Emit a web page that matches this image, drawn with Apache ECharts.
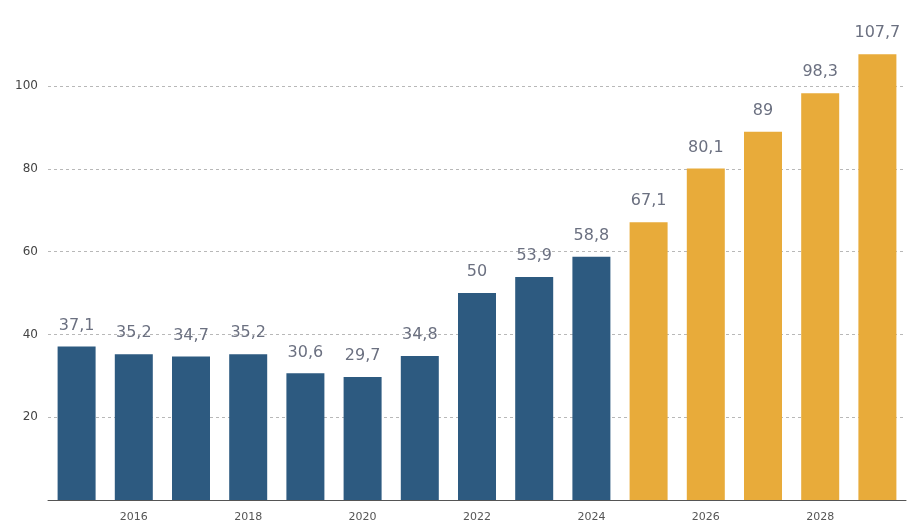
<!DOCTYPE html>
<html><head><meta charset="utf-8">
<script src="https://cdn.jsdelivr.net/npm/echarts@6/dist/echarts.min.js"></script>
<style>html,body{margin:0;padding:0;background:#fff}#c{width:909px;height:524px}</style>
</head><body><div id="c"></div>
<script>
const years = ['2015','2016','2017','2018','2019','2020','2021','2022','2023','2024','2025','2026','2027','2028','2029'];
const values = [37.1,35.2,34.7,35.2,30.6,29.7,34.8,50,53.9,58.8,67.1,80.1,89,98.3,107.7];
const forecastFrom = '2025';
const yTicks = [0,20,40,60,80,100];

const blue = '#2d5a80', gold = '#e8ab3a';
const fi = years.indexOf(forecastFrom);
const chart = echarts.init(document.getElementById('c'));
chart.setOption({
  animation:false,
  grid:{left:48,right:3,top:53,bottom:24},
  xAxis:{type:'category',data:years,
    axisLine:{lineStyle:{color:'#555',width:1}},
    axisTick:{show:false},
    axisLabel:{interval:(i)=>i%2===1,color:'#555',fontSize:11,fontFamily:'DejaVu Sans',margin:12}},
  yAxis:{type:'value',min:0,max:108,interval:20,
    axisLine:{show:false},axisTick:{show:false},
    axisLabel:{color:'#444',fontSize:12,fontFamily:'DejaVu Sans',margin:10,showMaxLabel:false,
      formatter:v=>yTicks.includes(v)&&v>0?String(v):''},
    splitLine:{lineStyle:{type:[3,3],width:1,color:['transparent','#b8b8b8','#b8b8b8','#b8b8b8','#b8b8b8','#b8b8b8','transparent']}}},
  series:[{type:'bar',barWidth:38,
    data:values.map((v,i)=>({value:v,itemStyle:{color:i<fi?blue:gold}})),
    label:{show:true,position:'top',distance:13,color:'#6b7080',fontSize:16,fontFamily:'DejaVu Sans',
      formatter:p=>String(p.value).replace('.',',')}}]
});
</script></body></html>
